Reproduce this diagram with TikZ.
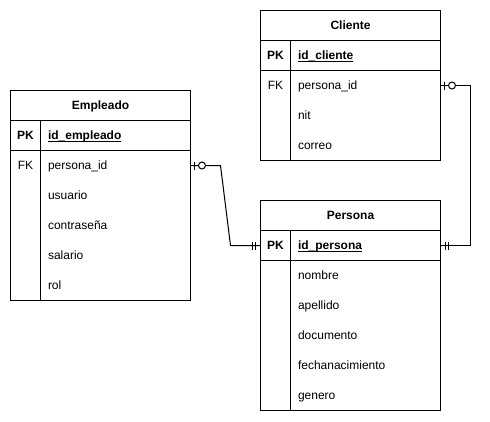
\documentclass[tikz,border=0pt]{standalone}
\usepackage{fontspec}
\setmainfont{Liberation Sans}
\newcommand{\ulkey}[1]{\underline{\smash{#1}}}
\begin{document}
\begin{tikzpicture}[x=1pt,y=-1pt,line width=1pt,
  every node/.style={inner sep=0pt,outer sep=0pt,font=\fontsize{12}{14}\selectfont},
  hdr/.style={draw,minimum width=180pt,minimum height=30pt,anchor=north west},
  hdrtxt/.style={anchor=base,font=\fontsize{12}{14}\selectfont\bfseries},
  tbody/.style={draw,minimum width=180pt,anchor=north west},
  rowbox/.style={minimum width=180pt,minimum height=30pt,anchor=north west},
  keytxt/.style={anchor=base,font=\fontsize{12}{14}\selectfont\bfseries},
  fktxt/.style={anchor=base},
  fld/.style={anchor=base west}]
\useasboundingbox (0,0) rectangle (490,421);

% ---------- Cliente ----------
\node[hdr] (cli) at (260.5,10.5) {};
\node[hdrtxt] (clit) at (350.5,29.3) {Cliente};
\node[tbody,minimum height=120pt] (clibody) at (260.5,40.5) {};
\draw (260.5,70.5) -- (440.5,70.5);
\draw (290.5,40.5) -- (290.5,160.5);
\node[rowbox] (clipk) at (260.5,40.5) {};
\node[rowbox] (clifk) at (260.5,70.5) {};
\node[keytxt] (clipkl) at (275.5,59.3) {PK};
\node[fld,font=\fontsize{12}{14}\selectfont\bfseries] (clipkf) at (298,59.3) {\ulkey{id\_cliente}};
\node[fktxt] (clifkl) at (275.5,89.3) {FK};
\node[fld] (clif1) at (298,89.3) {persona\_id};
\node[fld] (clif2) at (298,119.3) {nit};
\node[fld] (clif3) at (298,149.3) {correo};

% ---------- Empleado ----------
\node[hdr] (emp) at (10.5,90.5) {};
\node[hdrtxt] (empt) at (100.5,109.3) {Empleado};
\node[tbody,minimum height=180pt] (empbody) at (10.5,120.5) {};
\draw (10.5,150.5) -- (190.5,150.5);
\draw (40.5,120.5) -- (40.5,300.5);
\node[rowbox] (emppk) at (10.5,120.5) {};
\node[rowbox] (empfk) at (10.5,150.5) {};
\node[keytxt] (emppkl) at (25.5,139.3) {PK};
\node[fld,font=\fontsize{12}{14}\selectfont\bfseries] (emppkf) at (48,139.3) {\ulkey{id\_empleado}};
\node[fktxt] (empfkl) at (25.5,169.3) {FK};
\node[fld] (empf1) at (48,169.3) {persona\_id};
\node[fld] (empf2) at (48,199.3) {usuario};
\node[fld] (empf3) at (48,229.3) {contraseña};
\node[fld] (empf4) at (48,259.3) {salario};
\node[fld] (empf5) at (48,289.3) {rol};

% ---------- Persona ----------
\node[hdr] (per) at (260.5,200.5) {};
\node[hdrtxt] (pert) at (350.5,219.3) {Persona};
\node[tbody,minimum height=180pt] (perbody) at (260.5,230.5) {};
\draw (260.5,260.5) -- (440.5,260.5);
\draw (290.5,230.5) -- (290.5,410.5);
\node[rowbox] (perpk) at (260.5,230.5) {};
\node[keytxt] (perpkl) at (275.5,249.3) {PK};
\node[fld,font=\fontsize{12}{14}\selectfont\bfseries] (perpkf) at (298,249.3) {\ulkey{id\_persona}};
\node[fld] (perf1) at (298,279.3) {nombre};
\node[fld] (perf2) at (298,309.3) {apellido};
\node[fld] (perf3) at (298,339.3) {documento};
\node[fld] (perf4) at (298,369.3) {fechanacimiento};
\node[fld] (perf5) at (298,399.3) {genero};

% ---------- Relations ----------
% Empleado.persona_id -> Persona.id_persona
\draw (empfk.east) -- ([xshift=30pt]empfk.east) -- ([xshift=-30pt]perpk.west) -- (perpk.west);
\draw ([xshift=4pt,yshift=4pt]empfk.east) -- ([xshift=4pt,yshift=-4pt]empfk.east);
\draw[fill=white] ([xshift=11.5pt]empfk.east) circle (3.5pt);
\draw ([xshift=-5pt,yshift=4pt]perpk.west) -- ([xshift=-5pt,yshift=-4pt]perpk.west);
\draw ([xshift=-8pt,yshift=4pt]perpk.west) -- ([xshift=-8pt,yshift=-4pt]perpk.west);

% Cliente.persona_id -> Persona.id_persona
\draw (clifk.east) -- ([xshift=30pt]clifk.east) |- (perpk.east);
\draw ([xshift=4pt,yshift=4pt]clifk.east) -- ([xshift=4pt,yshift=-4pt]clifk.east);
\draw[fill=white] ([xshift=11.5pt]clifk.east) circle (3.5pt);
\draw ([xshift=5pt,yshift=4pt]perpk.east) -- ([xshift=5pt,yshift=-4pt]perpk.east);
\draw ([xshift=8pt,yshift=4pt]perpk.east) -- ([xshift=8pt,yshift=-4pt]perpk.east);
\end{tikzpicture}
\end{document}
